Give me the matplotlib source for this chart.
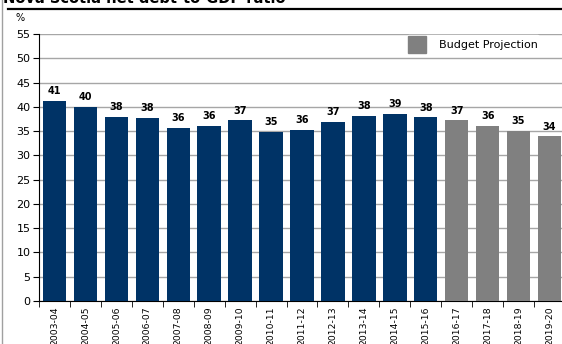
import matplotlib
matplotlib.use("Agg")
import matplotlib.pyplot as plt
import numpy as np
from matplotlib.patches import Patch

categories = ["2003-04", "2004-05", "2005-06", "2006-07", "2007-08", "2008-09",
              "2009-10", "2010-11", "2011-12", "2012-13", "2013-14", "2014-15",
              "2015-16", "2016-17", "2017-18", "2018-19", "2019-20"]
values = [41.3, 39.9, 38.0, 37.7, 35.7, 36.1, 37.2, 34.8, 35.3, 36.8, 38.1, 38.5,
          37.8, 37.2, 36.1, 35.1, 33.9]
labels = ["41", "40", "38", "38", "36", "36", "37", "35", "36", "37", "38", "39",
          "38", "37", "36", "35", "34"]
projection = [False] * 13 + [True] * 4

navy = "#003366"
grey = "#808080"

W, H = 562, 344
fig = plt.figure(figsize=(W / 100, H / 100), dpi=100)

# axes in pixel coords: left 39, right ~565, top 34 (55), bottom 301 (0)
l, r, t, b = 39, 565, 34, 301
ax = fig.add_axes([l / W, 1 - b / H, (r - l) / W, (b - t) / H])

x = np.arange(len(categories))
colors = [grey if p else navy for p in projection]
ax.bar(x, values, width=0.755, color=colors, zorder=3)

ax.set_xlim(-0.5, len(categories) - 0.5)
ax.set_ylim(0, 55)
ax.set_yticks(np.arange(0, 56, 5))
ax.yaxis.grid(True, color="#a6a6a6", linewidth=1.0, zorder=0)
ax.set_axisbelow(True)

for xi, v, lab in zip(x, values, labels):
    ax.text(xi, v + 1.0, lab, ha="center", va="bottom", fontsize=7,
            fontweight="bold", color="black")

ax.set_xticks(x)
ax.set_xticklabels(categories, rotation=90, fontsize=6.7)
ax.tick_params(axis="x", length=0, pad=4)
ax.set_xticks(np.arange(-0.5, len(categories), 1), minor=True)
ax.tick_params(axis="x", which="minor", length=4, direction="out", color="black")
ax.tick_params(axis="y", labelsize=8, length=4, direction="out", pad=2)

for s in ["top", "right"]:
    ax.spines[s].set_visible(False)
ax.spines["left"].set_color("black")
ax.spines["bottom"].set_color("black")

leg = ax.legend(handles=[Patch(facecolor=grey, edgecolor=grey, label="Budget Projection")],
                loc="upper right", bbox_to_anchor=((539 - l) / (r - l), (b - 35) / (b - t)),
                frameon=True, fontsize=8, handlelength=1.6, handleheight=2.0,
                borderaxespad=0, borderpad=0.1, handletextpad=1.2)
leg.get_frame().set_edgecolor("white")
leg.get_frame().set_facecolor("white")
leg.get_frame().set_alpha(1)
leg.set_zorder(5)

fig.text(15 / W, 1 - 18 / H, "%", fontsize=7, ha="left", va="center")
fig.text(3 / W, 1 - 3 / H, "Nova Scotia net debt-to-GDP ratio", fontsize=10.5,
         fontweight="bold", ha="left", va="baseline")

fig.add_artist(plt.Line2D([8 / W, 1], [1 - 9 / H, 1 - 9 / H], color="black",
                          linewidth=1.6, transform=fig.transFigure))
fig.add_artist(plt.Line2D([2 / W, 2 / W], [0, 1], color="#a0a0a0",
                          linewidth=1.0, transform=fig.transFigure))

fig.savefig("out.png", dpi=100)
